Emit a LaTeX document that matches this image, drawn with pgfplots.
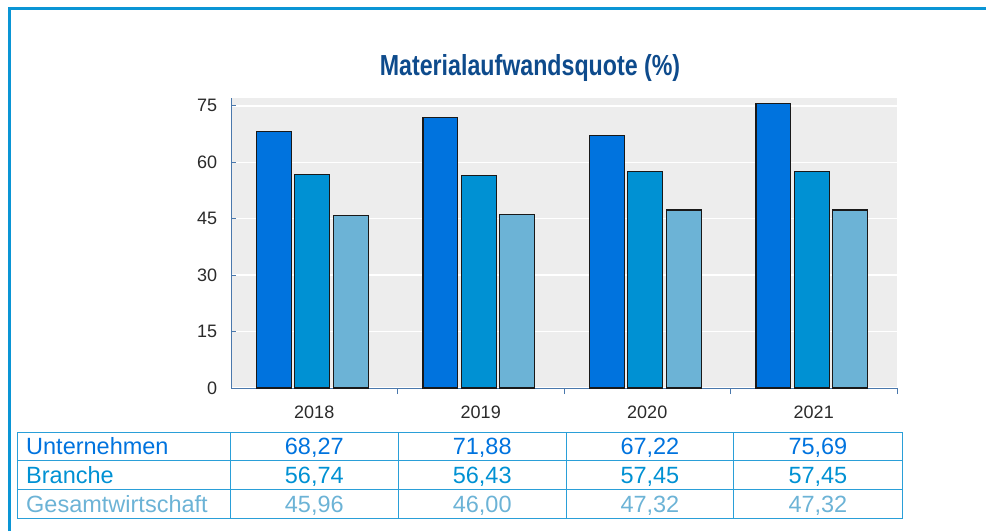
\documentclass[border=0pt]{standalone}
\usepackage{pgfplots}
\pgfplotsset{compat=1.18}
\usepackage{fontspec}
\setmainfont{Liberation Sans}
\newfontfamily\titlefont[FakeStretch=0.8]{Liberation Sans}
\definecolor{cU}{HTML}{0073DE}
\definecolor{cB}{HTML}{0091D3}
\definecolor{cG}{HTML}{6CB3D6}
\definecolor{frameblue}{HTML}{0A95D5}
\definecolor{tableblue}{HTML}{2A9FD8}
\definecolor{axisblue}{HTML}{4A78AC}
\definecolor{titleblue}{HTML}{0E4B8C}
\definecolor{bggray}{HTML}{EDEDED}
\definecolor{ticktext}{HTML}{2A2A2A}
\begin{document}
\begin{tikzpicture}[x=1pt,y=1pt]
\path[use as bounding box] (0,0) rectangle (986,531);
% outer frame
\draw[frameblue, line width=3pt, line join=miter] (9.5,0) -- (9.5,522) -- (986,522);
% title
\node[anchor=base, font=\titlefont\bfseries\fontsize{29}{34}\selectfont, text=titleblue, inner sep=0pt] at (530,455.5) {Materialaufwandsquote (\%)};
\begin{axis}[
  at={(231pt,143pt)}, anchor=south west,
  scale only axis, width=666pt, height=289.7pt,
  xmin=-0.5, xmax=3.5, ymin=0, ymax=77,
  axis background/.style={fill=bggray},
  axis x line=bottom, axis y line=left,
  axis line style={-, draw=axisblue, line width=1pt},
  tick align=inside,
  ytick={0,15,30,45,60,75},
  ymajorgrids, grid style={white, line width=1.5pt},
  xtick={0,1,2,3}, xticklabels={2018,2019,2020,2021},
  minor xtick={0.5,1.5,2.5,3.5},
  major tick length=5pt, minor tick length=6pt,
  major x tick style={draw=none},
  minor x tick style={draw=axisblue, line width=1pt},
  ytick style={draw=axisblue, line width=1pt},
  /pgf/number format/assume math mode=true,
  ticklabel style={font=\fontsize{18}{21}\selectfont, text=ticktext},
  yticklabel style={anchor=east, inner sep=0pt, xshift=-13.7pt},
  xticklabel style={anchor=center, inner sep=0pt, yshift=-19.3pt},
  ybar, bar width=0.21,
]
\addplot[fill=cU, draw=black!90, line width=1.1pt, bar shift=-0.242] coordinates {(0,68.27) (1,71.88) (2,67.22) (3,75.69)};
\addplot[fill=cB, draw=black!90, line width=1.1pt, bar shift=-0.011] coordinates {(0,56.74) (1,56.43) (2,57.45) (3,57.45)};
\addplot[fill=cG, draw=black!90, line width=1.1pt, bar shift=0.220] coordinates {(0,45.96) (1,46.00) (2,47.32) (3,47.32)};
\end{axis}
% table
\begin{scope}[tableblue, line width=1pt]
\draw (17,98.7) rectangle (902,13);
\draw (17,70.3) -- (902,70.3);
\draw (17,41.7) -- (902,41.7);
\foreach \x in {230.3,398.3,566,733.7} \draw (\x,98.7) -- (\x,13);
\end{scope}
\begin{scope}[every node/.style={font=\fontsize{23.5}{28}\selectfont, inner sep=0pt}]
\node[anchor=base west, text=cU] at (26,76.5) {Unternehmen};
\node[anchor=base west, text=cB] at (26,47.6) {Branche};
\node[anchor=base west, text=cG] at (26,19.0) {Gesamtwirtschaft};
\node[anchor=base, text=cU] at (314.3,76.5) {68,27};
\node[anchor=base, text=cU] at (482.2,76.5) {71,88};
\node[anchor=base, text=cU] at (649.9,76.5) {67,22};
\node[anchor=base, text=cU] at (817.9,76.5) {75,69};
\node[anchor=base, text=cB] at (314.3,47.6) {56,74};
\node[anchor=base, text=cB] at (482.2,47.6) {56,43};
\node[anchor=base, text=cB] at (649.9,47.6) {57,45};
\node[anchor=base, text=cB] at (817.9,47.6) {57,45};
\node[anchor=base, text=cG] at (314.3,19.0) {45,96};
\node[anchor=base, text=cG] at (482.2,19.0) {46,00};
\node[anchor=base, text=cG] at (649.9,19.0) {47,32};
\node[anchor=base, text=cG] at (817.9,19.0) {47,32};
\end{scope}
\end{tikzpicture}
\end{document}
